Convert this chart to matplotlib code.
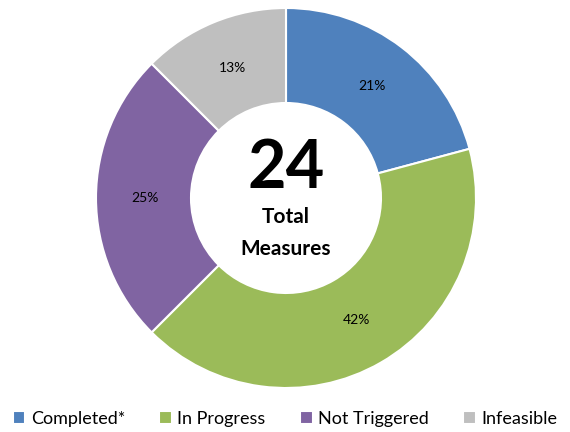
import matplotlib
matplotlib.use("Agg")
import matplotlib.pyplot as plt

categories = ["Completed*", "In Progress", "Not Triggered", "Infeasible"]
counts = [5, 10, 6, 3]
colors = ["#4F81BD", "#9BBB59", "#8064A2", "#BFBFBF"]
total_label = "24"

plt.rcParams['font.family'] = ['Lato', 'DejaVu Sans']

total = sum(counts)
pct_labels = [f"{int(c / total * 100 + 0.5)}%" for c in counts]

fig = plt.figure(figsize=(5.7, 4.32), dpi=100)
ax = fig.add_axes([96/570, 44/432, 380/570, 380/432])
wedges, texts = ax.pie(counts, colors=colors, startangle=90, counterclock=False,
                       radius=1.0, wedgeprops=dict(width=0.5, edgecolor='white', linewidth=1.5),
                       labels=pct_labels,
                       labeldistance=0.74, textprops=dict(fontsize=10, ha='center', va='center'))
ax.set_xlim(-1, 1)
ax.set_ylim(-1, 1)
ax.set_aspect('equal')

ax.text(0, 0.15, total_label, ha='center', va='center', fontsize=48, fontweight='bold')
ax.text(0, -0.1, "Total", ha='center', va='center', fontsize=15, fontweight='bold')
ax.text(0, -0.27, "Measures", ha='center', va='center', fontsize=15, fontweight='bold')

fig.legend(wedges, categories, loc='center', bbox_to_anchor=(0.5, 1 - 419/432), ncol=4,
           frameon=False, fontsize=13, handlelength=0.7, handleheight=0.7,
           handletextpad=0.3, columnspacing=1.9)

fig.savefig("out.png", dpi=100)
